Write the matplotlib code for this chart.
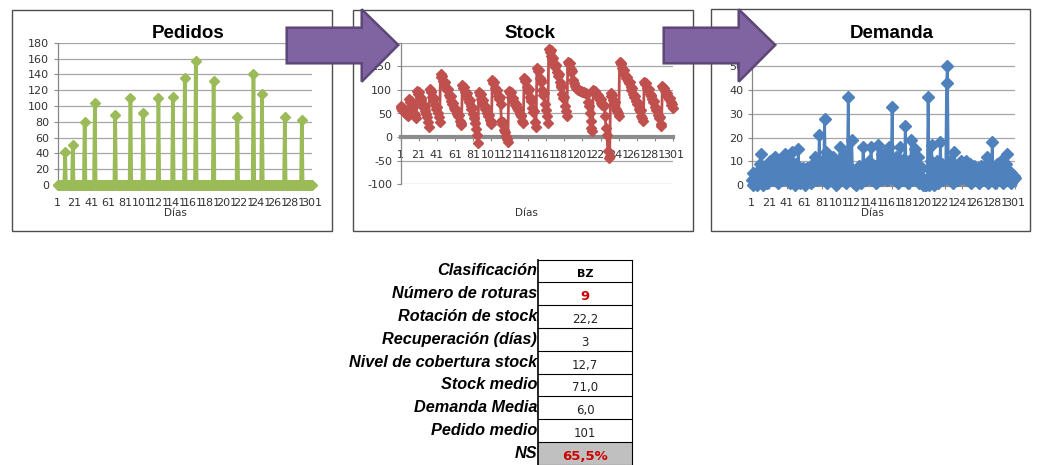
import numpy as np
import matplotlib.pyplot as plt
from matplotlib.patches import Polygon, Rectangle

plt.rcParams['font.family'] = ['DejaVu Sans']
plt.rcParams['axes.unicode_minus'] = False

W, H = 1038, 465

days = np.arange(1, 302)

# orders: only the days on which something was ordered
order_days = [10, 19, 33, 45, 69, 87, 102, 120, 137, 151, 164, 185, 213, 232, 242, 269, 289]
order_qty = [42, 50, 80, 104, 88, 110, 91, 110, 111, 135, 157, 131, 86, 140, 115, 86, 82]

stock = [
    65, 62, 58, 61, 55, 50, 54, 47, 44,
    80, 74, 77, 66, 60, 63, 52, 46, 40,
    98, 92, 95, 85, 79, 82, 70, 64, 67, 55, 48, 42, 33, 22,
    101, 95, 98, 86, 79, 82, 68, 60, 63, 50, 42, 33,
    133, 127, 130, 118, 113, 116, 104, 99, 101, 90, 85, 87, 76, 71, 73, 62, 58, 60, 49, 44, 46, 35, 30, 26,
    110, 104, 107, 96, 90, 93, 81, 75, 78, 66, 60, 62, 48, 40, 30, 18, 5, -13,
    95, 89, 92, 81, 75, 78, 66, 60, 63, 51, 45, 47, 36, 32, 28,
    121, 114, 117, 104, 97, 100, 87, 81, 84, 70, 34, 28, 31, 16, 10, 3, -5, -10,
    98, 93, 95, 86, 81, 83, 74, 69, 71, 62, 57, 59, 49, 44, 46, 35, 30,
    126, 119, 122, 106, 98, 101, 85, 77, 80, 62, 53, 56, 33, 22,
    146, 139, 142, 126, 117, 120, 100, 90, 93, 70, 58, 44, 30,
    187, 181, 184, 171, 165, 168, 155, 149, 152, 138, 130, 133, 116, 107, 110, 92, 83, 86, 66, 55, 44,
    160, 154, 157, 145, 137, 140, 122, 114, 108, 104, 102, 100, 99, 98, 98, 97, 96, 96, 95, 94, 93, 92,
    75, 65, 50, 35, 20, 12,
    100, 96, 98, 91, 87, 89, 82, 78, 80, 73, 69, 71, 66, 45, 20, 5, -30, -45, -41,
    93, 87, 90, 78, 71, 74, 60, 55, 50, 45,
    160, 155, 158, 146, 140, 143, 131, 126, 128, 119, 114, 116, 106, 100, 103, 91, 85, 88, 76, 70,
    73, 60, 55, 57, 45, 40, 35,
    117, 112, 115, 104, 99, 101, 92, 87, 89, 80, 74, 77, 64, 57, 60, 46, 40, 42, 28, 24,
    108, 103, 105, 97, 92, 94, 86, 81, 83, 74, 69, 71, 61,
]

demand = [
    2, 0, 5, 3, 1, 4, 0, 6, 2, 9, 3, 13, 4, 0, 7, 2, 5, 1, 8, 3,
    6, 10, 4, 2, 11, 5, 8, 12, 3, 6, 1, 9, 4, 7, 2, 10, 5, 3, 13, 6,
    2, 8, 4, 11, 1, 6, 14, 3, 7, 0, 9, 5, 2, 15, 4, 1, 6, 3, 7, 2,
    5, 0, 4, 7, 2, 6, 3, 8, 1, 5, 9, 4, 12, 6, 2, 8, 5, 21, 3, 7,
    10, 2, 6, 28, 4, 14, 1, 9, 3, 7, 5, 2, 8, 12, 4, 6, 0, 9, 3, 5,
    7, 16, 2, 5, 9, 13, 3, 6, 1, 8, 37, 4, 2, 7, 19, 3, 6, 1, 5, 0,
    4, 2, 8, 3, 6, 1, 5, 16, 4, 7, 2, 9, 3, 6, 10, 4, 16, 2, 7, 5,
    3, 8, 1, 6, 17, 4, 9, 2, 7, 13, 5, 3, 13, 8, 2, 11, 6, 16, 4, 9,
    33, 5, 2, 7, 12, 3, 8, 1, 6, 16, 4, 9, 2, 11, 5, 25, 3, 7, 1, 10,
    4, 8, 19, 2, 6, 11, 15, 3, 9, 12, 5, 1, 4, 2, 7, 0, 1, 0, 2, 0,
    1, 37, 0, 2, 10, 17, 3, 8, 0, 5, 2, 10, 1, 6, 3, 18, 4, 9, 2, 5,
    7, 3, 43, 50, 8, 4, 10, 2, 6, 1, 9, 14, 3, 7, 5, 2, 8, 4, 6, 10,
    3, 7, 9, 5, 10, 2, 8, 6, 4, 9, 1, 7, 3, 8, 5, 2, 6, 4, 7, 1,
    5, 8, 2, 6, 3, 7, 4, 9, 12, 1, 6, 3, 8, 2, 18, 5, 7, 1, 4, 9,
    2, 6, 3, 8, 10, 4, 1, 7, 5, 3, 9, 13, 2, 6, 4, 1, 5, 3, 2, 4,
    3,
]

pedidos = np.zeros(len(days))
pedidos[np.array(order_days) - 1] = order_qty

table_labels = ['Clasificación', 'Número de roturas', 'Rotación de stock', 'Recuperación (días)',
                'Nivel de cobertura stock', 'Stock medio', 'Demanda Media', 'Pedido medio', 'NS']
table_values = ['BZ', '9', '22,2', '3', '12,7', '71,0', '6,0', '101', '65,5%']

fig = plt.figure(figsize=(W / 100, H / 100), dpi=100)


def px_axes(x0, y0, x1, y1):
    # axes placed with pixel coordinates (origin top-left)
    return fig.add_axes([x0 / W, 1 - y1 / H, (x1 - x0) / W, (y1 - y0) / H])


def excel_chart(ax, y, color, ylim, ystep, lw, ms):
    ax.plot(days, y, color=color, lw=lw, marker='D', ms=ms, mec=color, mfc=color,
            clip_on=False, zorder=3)
    ax.set_xlim(1, 301)
    ax.set_ylim(*ylim)
    ax.set_xticks(np.arange(1, 302, 20))
    ax.set_yticks(np.arange(ylim[0], ylim[1] + 1, ystep))
    ax.yaxis.grid(True, color='#a6a6a6', lw=0.9)
    ax.set_axisbelow(True)
    for s in ['top', 'right']:
        ax.spines[s].set_visible(False)
    ax.spines['left'].set_color('#868686')
    ax.spines['left'].set_linewidth(0.9)
    ax.spines['bottom'].set_position(('data', 0))
    ax.spines['bottom'].set_color('#8c8c8c')
    ax.spines['bottom'].set_linewidth(3)
    ax.tick_params(axis='x', length=3, color='#8c8c8c', pad=6, labelsize=8, labelcolor='#333333')
    ax.tick_params(axis='y', length=3, color='#8c8c8c', pad=3, labelsize=8, labelcolor='#333333')
    ax.patch.set_alpha(0)


ax1 = px_axes(57.5, 42.7, 312, 185)
excel_chart(ax1, pedidos, '#9bbb59', (0, 180), 20, 2.6, 5.5)

ax2 = px_axes(400.5, 42.7, 673.3, 184.3)
excel_chart(ax2, stock, '#c0504d', (-100, 200), 50, 2.0, 5.5)

ax3 = px_axes(751.7, 42.7, 1015, 185)
excel_chart(ax3, demand, '#4f81bd', (0, 60), 10, 2.0, 6)

# overlay in pixel coordinates: frames, titles, arrows and the summary table
ov = fig.add_axes([0, 0, 1, 1])
ov.set_xlim(0, W)
ov.set_ylim(H, 0)
ov.axis('off')
ov.patch.set_alpha(0)

frames = [(11.7, 10, 332.3, 231), (353.3, 10, 693, 230.5), (711, 9.5, 1030, 230.5)]
for x0, y0, x1, y1 in frames:
    ov.add_patch(Rectangle((x0, y0), x1 - x0, y1 - y0, fill=False, ec='#4d4d4d', lw=1))

titles = [('Pedidos', 188), ('Stock', 530), ('Demanda', 892)]
for t, xc in titles:
    ov.text(xc, 33, t, ha='center', va='center', fontsize=13.5, fontweight='bold',
            family='Liberation Sans', color='black')

for xc in [175, 526, 872]:
    ov.text(xc, 213, 'Días', ha='center', va='center', fontsize=7.5, color='#333333')

arrow = np.array([(286.7, 27.7), (361.7, 27.7), (361.7, 9.3), (398.3, 45.0),
                  (361.7, 81.7), (361.7, 63.3), (286.7, 63.3)])
for dx in [0, 377]:
    ov.add_patch(Polygon(arrow + [dx, 0], closed=True, fc='#8064a2', ec='#5c4776', lw=1.8,
                         zorder=5))

col_x0, col_x1 = 538.3, 631.7
row_top, row_h = 259.5, 22.8
ov.add_patch(Rectangle((col_x0, row_top + 8 * row_h), col_x1 - col_x0, row_h,
                       fc='#c0c0c0', ec='none'))
for i in range(10):
    yy = row_top + i * row_h
    ov.plot([col_x0, col_x1], [yy, yy], color='black', lw=0.8)
ov.plot([col_x0, col_x0], [row_top, row_top + 9 * row_h], color='black', lw=1.2)
ov.plot([col_x1, col_x1], [row_top, row_top + 9 * row_h], color='black', lw=0.8)

for i, (lab, val) in enumerate(zip(table_labels, table_values)):
    yc = row_top + (i + 0.5) * row_h
    ov.text(537, yc, lab, ha='right', va='center', fontsize=11.7, fontweight='bold',
            fontstyle='italic', family='Liberation Sans', color='black')
    kw = dict(fontsize=8.5, color='#222222')
    if val == 'BZ':
        kw = dict(fontsize=8, fontweight='bold', color='black')
    elif val in ('9', '65,5%'):
        kw = dict(fontsize=9.5, fontweight='bold', color='#cc0000')
    ov.text((col_x0 + col_x1) / 2, yc + 3, val, ha='center', va='center', **kw)

fig.savefig('out.png', dpi=100)
